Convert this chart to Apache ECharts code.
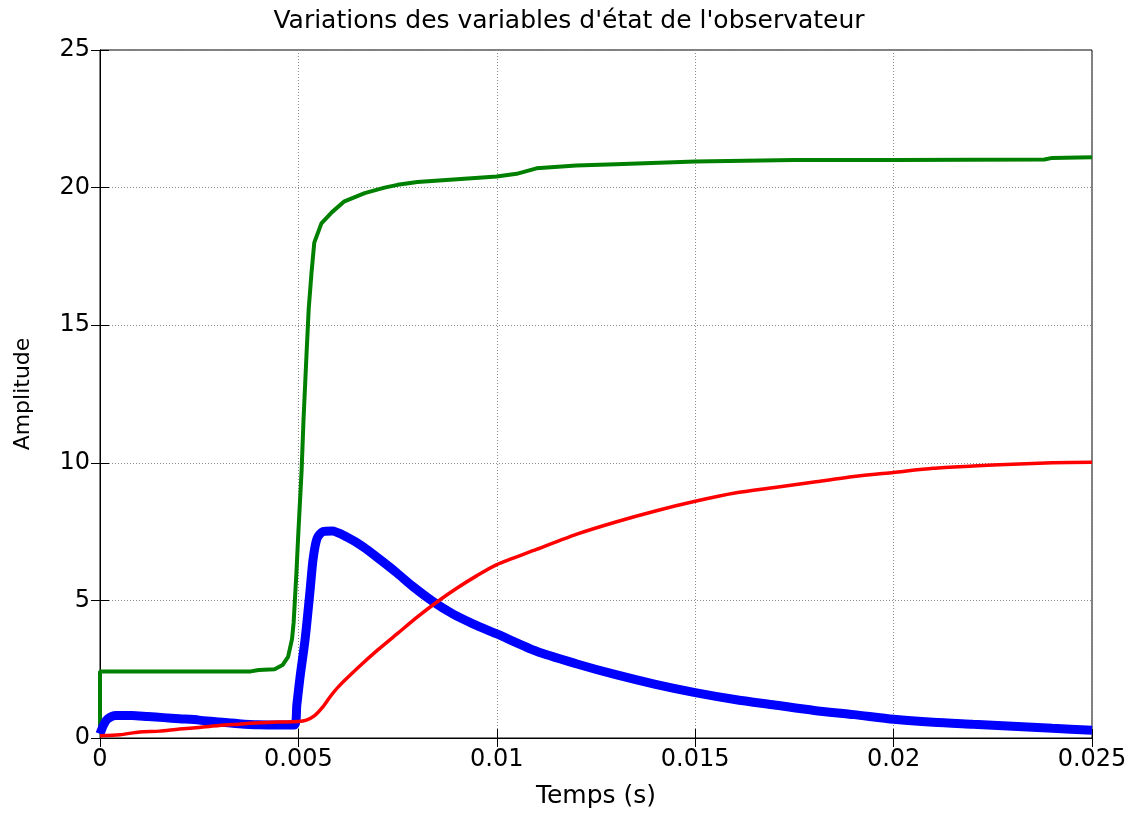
<!DOCTYPE html>
<html>
<head>
<meta charset="utf-8">
<script src="https://cdn.jsdelivr.net/npm/echarts@6/dist/echarts.min.js"></script>
<style>
  html, body { margin: 0; padding: 0; background: #fff; }
  #chart { width: 1138px; height: 814px; }
</style>
</head>
<body>
<div id="chart"></div>
<script>
// values (time in s, amplitude)
const greenT = [0, 0, 0.0001, 0.001, 0.002, 0.003, 0.0038, 0.0040, 0.0044, 0.0046, 0.00474, 0.00484, 0.00488, 0.00495, 0.005, 0.00508, 0.00513, 0.0052, 0.00526, 0.00533, 0.0054, 0.00558, 0.00584, 0.00616, 0.00667, 0.00717, 0.0075, 0.008, 0.009, 0.01, 0.0105, 0.011, 0.012, 0.013, 0.015, 0.0175, 0.02, 0.0238, 0.024, 0.025];
const greenV = [0.4, 2.42, 2.42, 2.42, 2.42, 2.42, 2.42, 2.47, 2.5, 2.65, 2.95, 3.6, 4.2, 6.0, 7.5, 9.7, 11.6, 13.8, 15.6, 16.9, 18.0, 18.7, 19.1, 19.5, 19.8, 20.0, 20.1, 20.2, 20.3, 20.4, 20.5, 20.7, 20.8, 20.85, 20.95, 21.0, 21.0, 21.02, 21.08, 21.1];

const blueT = [0, 0.0001, 0.0002, 0.0004, 0.0008, 0.0012, 0.0016, 0.002, 0.0025, 0.003, 0.0035, 0.004, 0.0045, 0.0049, 0.00496, 0.00504, 0.00517, 0.00529, 0.00537, 0.00547, 0.00562, 0.00585, 0.00622, 0.00663, 0.00706, 0.00748, 0.00789, 0.00839, 0.0089, 0.0094, 0.01, 0.011, 0.012, 0.013, 0.014, 0.015, 0.016, 0.017, 0.018, 0.019, 0.02, 0.021, 0.022, 0.023, 0.024, 0.025];
const blueV = [0.15, 0.5, 0.7, 0.82, 0.82, 0.78, 0.74, 0.7, 0.65, 0.58, 0.52, 0.48, 0.47, 0.47, 1.2, 2.2, 3.6, 5.3, 6.5, 7.25, 7.5, 7.52, 7.3, 6.95, 6.48, 6.0, 5.5, 4.96, 4.5, 4.15, 3.78, 3.15, 2.7, 2.3, 1.95, 1.65, 1.4, 1.2, 1.0, 0.85, 0.68, 0.57, 0.5, 0.43, 0.35, 0.28];

const redT = [0, 0.0005, 0.001, 0.0015, 0.002, 0.0025, 0.003, 0.0035, 0.004, 0.0045, 0.005, 0.0052, 0.0054, 0.0056, 0.0058, 0.006, 0.0065, 0.007, 0.0075, 0.008, 0.0085, 0.009, 0.0095, 0.01, 0.011, 0.012, 0.013, 0.014, 0.015, 0.016, 0.017, 0.018, 0.019, 0.02, 0.021, 0.022, 0.023, 0.024, 0.025];
const redV = [0.08, 0.12, 0.22, 0.25, 0.33, 0.38, 0.45, 0.5, 0.55, 0.58, 0.6, 0.65, 0.8, 1.1, 1.5, 1.85, 2.55, 3.2, 3.8, 4.4, 4.95, 5.45, 5.9, 6.3, 6.85, 7.4, 7.85, 8.25, 8.6, 8.9, 9.1, 9.3, 9.5, 9.65, 9.8, 9.88, 9.95, 10.0, 10.02];

const xTicks = { min: 0, max: 0.025, interval: 0.005 };
const yTicks = { min: 0, max: 25, interval: 5 };

const pairs = (t, v) => t.map((x, i) => [x, v[i]]);

const font = 'DejaVu Sans';
const tick = { show: true, inside: true, length: 9, lineStyle: { color: '#000', width: 1 } };
const grid = { show: true, lineStyle: { color: '#8a8a8a', type: [1, 2], width: 1 } };

const chart = echarts.init(document.getElementById('chart'));
chart.setOption({
  animation: false,
  title: {
    text: "Variations des variables d'état de l'observateur",
    left: 'center',
    top: 4,
    textStyle: { fontFamily: font, fontSize: 25, fontWeight: 'normal', color: '#000' }
  },
  grid: { left: 100, right: 46, top: 50, bottom: 74, show: true, borderColor: '#000', borderWidth: 1 },
  xAxis: [
    {
      type: 'value', ...xTicks,
      name: 'Temps (s)', nameLocation: 'middle', nameGap: 46,
      nameTextStyle: { fontFamily: font, fontSize: 25, color: '#000' },
      axisLine: { show: true, lineStyle: { color: '#000' } },
      axisTick: tick, splitLine: grid,
      axisLabel: {
        fontFamily: font, fontSize: 24, color: '#000', margin: 10,
        formatter: v => v === 0 ? '0' : String(+v.toFixed(3))
      }
    },
    {
      type: 'value', ...xTicks, position: 'top',
      axisLine: { show: true, lineStyle: { color: '#000' } },
      axisTick: tick, axisLabel: { show: false }, splitLine: { show: false }
    }
  ],
  yAxis: [
    {
      type: 'value', ...yTicks,
      name: 'Amplitude', nameLocation: 'middle', nameGap: 66,
      nameTextStyle: { fontFamily: font, fontSize: 22, color: '#000' },
      axisLine: { show: true, lineStyle: { color: '#000' } },
      axisTick: tick, splitLine: grid,
      axisLabel: { fontFamily: font, fontSize: 24, color: '#000', margin: 10 }
    },
    {
      type: 'value', ...yTicks, position: 'right',
      axisLine: { show: true, lineStyle: { color: '#000' } },
      axisTick: tick, axisLabel: { show: false }, splitLine: { show: false }
    }
  ],
  series: [
    { type: 'line', data: pairs(greenT, greenV), showSymbol: false, lineStyle: { color: '#008000', width: 4 } },
    { type: 'line', data: pairs(blueT, blueV), showSymbol: false, smooth: 0.25, lineStyle: { color: '#0000ff', width: 9 } },
    { type: 'line', data: pairs(redT, redV), showSymbol: false, smooth: 0.25, lineStyle: { color: '#ff0000', width: 3.5 } }
  ]
});
</script>
</body>
</html>
